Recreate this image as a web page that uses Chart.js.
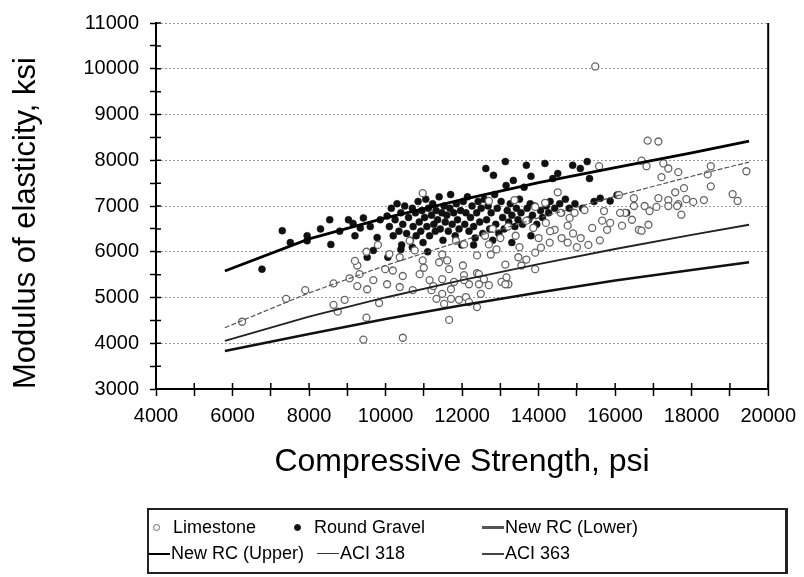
<!DOCTYPE html>
<html>
<head>
<meta charset="utf-8">
<script src="https://cdn.jsdelivr.net/npm/chart.js@4.4.1/dist/chart.umd.min.js"></script>
<style>
  body { margin: 0; background: #fff; font-family: "Liberation Sans", Arial, sans-serif; }
  #wrap { position: relative; width: 804px; height: 577px; }
  #legend { position: absolute; left: 147px; top: 508px; width: 636px; height: 62px; border: 2px solid #222; border-right-width: 3px; }
  .item { position: absolute; display: flex; align-items: center; font-size: 18px; color: #000; white-space: nowrap; }
  .mark { display: inline-block; margin-right: 1px; }
</style>
</head>
<body>
<div id="wrap">
  <canvas id="chart" width="804" height="577"></canvas>
  <div id="legend"></div>
</div>
<script>
// axis ranges / ticks
const xMin = 4000, xMax = 20000;
const yMin = 3000, yMax = 11000;

const curvePsi = [5800, 8000, 10000, 12000, 14000, 16000, 18000, 19500];
const upperKsi = [5580, 6280, 6740, 7140, 7510, 7840, 8160, 8420];
const lowerKsi = [3830, 4200, 4530, 4830, 5110, 5370, 5600, 5770];
const aci318Ksi = [4340, 5100, 5700, 6240, 6740, 7210, 7650, 7960];
const aci363Ksi = [4050, 4580, 5000, 5380, 5730, 6060, 6370, 6590];

// Limestone specimens [psi, ksi]
const limestone = [
  [6250,4470],[7400,4970],[7900,5160],[8640,5310],[8640,4840],[8750,4690],[8930,4950],[9060,5420],
  [9260,5700],[9320,5510],[9260,5250],[9520,5180],[9680,5380],[9500,4560],[9830,4880],[9990,5620],
  [10040,5290],[9420,4080],[10450,4120],[11660,4510],[9500,6000],[9800,6150],[10100,5950],[9200,5800],
  [10370,5880],[10760,6030],[10970,5810],[10190,5590],[10450,5470],[10890,5510],[11150,5380],[10370,5230],
  [10710,5160],[11200,5160],[11400,5770],[11610,5810],[11660,5620],[11480,5400],[11790,5340],[12020,5700],
  [12050,5490],[12180,5290],[11330,4970],[11480,5080],[11710,4970],[11530,4860],[11920,4950],[12100,5010],
  [11710,5180],[12390,5530],[12570,5400],[12440,5290],[12700,5270],[12390,4790],[12750,5940],[13130,5720],
  [13160,5440],[13030,5340],[13210,5290],[13470,5880],[13680,5830],[13550,5700],[13910,5620],[13910,5980],
  [14060,6090],[14290,6200],[14760,6200],[12700,6160],[12390,5920],[12050,6160],[11480,5940],[10630,6240],
  [11840,6240],[12050,5380],[12490,5080],[12180,4900],[12440,5510],[13130,5290],[11000,5650],[11250,5250],
  [10970,7280],[14500,7300],[12700,7110],[13370,7130],[13910,6980],[14170,7070],[14580,6850],[14810,6740],
  [13680,6680],[13860,6520],[14190,6630],[14420,6480],[14760,6570],[14940,6850],[12800,6500],[13000,6300],
  [13200,6550],[13400,6350],[12600,6350],[12900,6050],[13500,6100],[14000,6300],[14300,6450],[14600,6300],
  [15100,6300],[15300,6150],[15600,6250],[14900,6400],[15000,6100],
  [16850,8430],[17130,8410],[16690,7990],[16820,7870],[17260,7930],[17390,7820],[17650,7740],[17210,7630],
  [18500,7870],[18420,7690],[19430,7760],[18500,7430],[17800,7390],[17570,7300],[17130,7170],[17390,7130],
  [17650,7040],[17860,7150],[18040,7090],[18320,7130],[19070,7260],[19200,7110],[17390,7000],[17620,7000],
  [17730,6810],[17080,6980],[16770,7000],[16900,6890],[16490,7170],[16490,7000],[16260,6850],[16440,6700],
  [16870,6590],[16620,6480],[16130,6850],[16100,7240],[15710,6890],[15660,6680],[15870,6630],[15790,6480],
  [15580,7870],[15200,6910],[15400,6520],[16180,6570],[16690,6460],[15480,10050]
];

// Round Gravel specimens [psi, ksi]
const roundGravel = [
  [6770,5620],[7300,6460],[7510,6200],[7950,6350],[7950,6240],[8540,6700],[8570,6160],[9030,6700],
  [9340,6520],[9420,6740],[9520,5880],[9680,6030],[9780,6310],[9860,6700],[8800,6450],[9200,6350],
  [9600,6550],[9150,6620],[8300,6500],
  [10040,6780],[10060,5880],[10100,6550],[10150,6950],[10200,6350],[10250,6700],[10300,7050],[10350,6450],
  [10400,6850],[10420,6150],[10450,6600],[10500,7000],[10550,6400],[10600,6750],[10650,6250],[10700,6950],
  [10720,6550],[10780,6850],[10800,6350],[10850,7100],[10880,6650],[10920,6450],[10950,6900],[10980,6200],
  [11020,6750],[11050,7150],[11080,6550],[11120,6950],[11150,6350],[11200,6800],[11230,7050],[11260,6600],
  [11300,6450],[11320,6900],[11360,6700],[11400,7200],[11430,6500],[11470,6850],[11500,6250],[11530,7000],
  [11560,6650],[11600,6800],[11640,6450],[11680,6950],[11700,7250],[11740,6600],[11780,6850],[11820,6350],
  [11850,7050],[11880,6700],[11920,6500],[11960,6900],[11990,6150],
  [12030,7100],[12070,6600],[12100,6850],[12140,7200],[12180,6450],[12220,6750],[12260,7000],[12300,6550],
  [12340,6300],[12380,6850],[12420,7100],[12460,6650],[12500,6950],[12540,6400],[12580,7150],[12620,7820],
  [12640,6700],[12680,7000],[12720,6500],[12760,6850],[12820,7670],[12850,7250],[12880,6600],[12920,6950],
  [12960,6400],
  [13020,7100],[13060,6750],[13100,6500],[13130,7970],[13150,7450],[13180,6900],[13220,6650],[13260,7050],
  [13300,6800],[13340,7560],[13380,6550],[13420,6950],[13460,6700],[13500,7150],[13540,6850],[13580,6600],
  [13620,7410],[13680,7890],[13700,6950],[13740,6700],[13780,7050],[13800,7650],[13840,6800],[13900,7000],
  [13950,6600],
  [14050,6900],[14100,6750],[14165,7930],[14200,7000],[14260,6850],[14300,7100],[14370,7600],[14420,6950],
  [14500,7710],[14550,7050],[14600,6850],[14700,7150],[14800,6950],[14890,7890],[14950,7050],[15090,7820],
  [15150,6950],[15270,7970],[15330,7600],[15450,7100],[15610,7170],[15870,7110],[16050,7240],[16300,6850],
  [10400,6050],[10700,6100],[11100,6000],[12300,6150],[12800,6250],[13300,6200],[13800,6350],[14300,6450]
];

const toXY = arr => arr.map(p => ({ x: p[0], y: p[1] }));
const curve = ks => curvePsi.map((x, i) => ({ x: x, y: ks[i] }));

// legend positions (left px of each item inside box, row centre)
const legendPos = [[0, 18], [141, 18], [333, 18], [-1, 44], [168, 44], [333, 44]];

// right frame + inner tick marks
const framePlugin = {
  id: 'frame',
  afterDraw(chart) {
    const { ctx, chartArea: a, scales } = chart;
    ctx.save();
    ctx.strokeStyle = '#000';
    ctx.lineWidth = 2;
    ctx.beginPath();
    ctx.moveTo(a.right, a.top);
    ctx.lineTo(a.right, a.bottom + 1);
    ctx.stroke();
    ctx.lineWidth = 1.5;
    ctx.beginPath();
    scales.x.ticks.forEach(t => {
      const px = scales.x.getPixelForValue(t.value);
      ctx.moveTo(px, a.bottom);
      ctx.lineTo(px, a.bottom - 6);
    });
    scales.y.ticks.forEach(t => {
      const py = scales.y.getPixelForValue(t.value);
      ctx.moveTo(a.left, py);
      ctx.lineTo(a.left + 5, py);
    });
    ctx.stroke();
    ctx.restore();
  }
};

const chart = new Chart(document.getElementById('chart'), {
  type: 'scatter',
  data: {
    datasets: [
      { label: 'Limestone', data: toXY(limestone), pointStyle: 'circle', pointRadius: 3.5, pointBorderWidth: 1.3,
        borderColor: '#666', backgroundColor: '#fff', order: 2 },
      { label: 'Round Gravel', data: toXY(roundGravel), pointStyle: 'circle', pointRadius: 3.5, pointBorderWidth: 0.5,
        borderColor: '#111', backgroundColor: '#111', order: 3 },
      { label: 'New RC (Lower)', data: curve(lowerKsi), showLine: true, pointRadius: 0,
        borderColor: '#111', borderWidth: 2.5, order: 1, legendColor: '#555', legendWidth: 3 },
      { label: 'New RC (Upper)', data: curve(upperKsi), showLine: true, pointRadius: 0,
        borderColor: '#000', borderWidth: 2.8, order: 1 },
      { label: 'ACI 318', data: curve(aci318Ksi), showLine: true, pointRadius: 0,
        borderColor: '#555', borderWidth: 1.2, borderDash: [5, 2], order: 1, legendColor: '#333', legendWidth: 1 },
      { label: 'ACI 363', data: curve(aci363Ksi), showLine: true, pointRadius: 0,
        borderColor: '#222', borderWidth: 1.8, order: 1, legendColor: '#444', legendWidth: 2 }
    ]
  },
  options: {
    responsive: false,
    animation: false,
    layout: { padding: { left: 4, right: 31, top: 20, bottom: 92 } },
    plugins: { legend: { display: false }, tooltip: { enabled: false } },
    scales: {
      x: {
        type: 'linear', min: xMin, max: xMax,
        ticks: { stepSize: 1000, autoSkip: false, maxRotation: 0, color: '#000', padding: 8,
          font: { family: 'Liberation Sans', size: 20 },
          callback: v => v % 2000 === 0 ? v : '' },
        grid: { drawOnChartArea: false, tickColor: '#000', tickLength: 7, tickWidth: 1.5 },
        border: { color: '#000', width: 2 },
        title: { display: true, text: 'Compressive Strength, psi', color: '#000',
          font: { family: 'Liberation Sans', size: 32 } },
        afterFit: s => { s.height = 96; }
      },
      y: {
        min: yMin, max: yMax,
        ticks: { stepSize: 500, autoSkip: false, color: '#000', padding: 11,
          font: { family: 'Liberation Sans', size: 20 },
          callback: v => v % 1000 === 0 ? v : '' },
        grid: { color: c => (c.index % 2 === 0) ? '#999' : 'rgba(0,0,0,0)',
          tickColor: '#000', tickLength: 6, tickWidth: 1.5 },
        border: { color: '#000', width: 2, dash: [2, 2] },
        title: { display: true, text: 'Modulus of elasticity, ksi', color: '#000', align: 'start',
          font: { family: 'Liberation Sans', size: 31 } },
        afterFit: s => { s.width = 152; }
      }
    }
  },
  plugins: [framePlugin]
});

// HTML legend built from the datasets
const legend = document.getElementById('legend');
chart.data.datasets.forEach((ds, i) => {
  const item = document.createElement('div');
  item.className = 'item';
  item.style.left = legendPos[i][0] + 'px';
  item.style.top = (legendPos[i][1] - 11) + 'px';
  const mark = document.createElement('span');
  mark.className = 'mark';
  if (ds.showLine) {
    mark.style.width = '22px';
    mark.style.height = '0';
    mark.style.borderTop = (ds.legendWidth || ds.borderWidth) + 'px solid ' + (ds.legendColor || ds.borderColor);
  } else {
    mark.style.width = '5px';
    mark.style.height = '5px';
    mark.style.borderRadius = '50%';
    mark.style.background = ds.backgroundColor;
    mark.style.border = '1px solid ' + ds.borderColor;
    mark.style.margin = '0 13px 0 4px';
  }
  const txt = document.createElement('span');
  txt.textContent = ds.label;
  item.appendChild(mark);
  item.appendChild(txt);
  legend.appendChild(item);
});
</script>
</body>
</html>
